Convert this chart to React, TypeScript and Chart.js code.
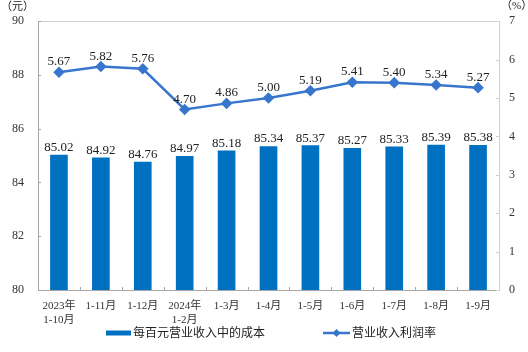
import React, { useEffect, useRef } from "react";
import { Chart, registerables } from "chart.js";

Chart.register(...registerables);

const categories: (string | string[])[] = [
  ["2023年", "1-10月"],
  "1-11月",
  "1-12月",
  ["2024年", "1-2月"],
  "1-3月",
  "1-4月",
  "1-5月",
  "1-6月",
  "1-7月",
  "1-8月",
  "1-9月",
];
const costPerHundred = [85.02, 84.92, 84.76, 84.97, 85.18, 85.34, 85.37, 85.27, 85.33, 85.39, 85.38];
const profitRate = [5.67, 5.82, 5.76, 4.7, 4.86, 5.0, 5.19, 5.41, 5.4, 5.34, 5.27];
const leftTicks = [80, 82, 84, 86, 88, 90];
const rightTicks = [0, 1, 2, 3, 4, 5, 6, 7];
const barLabel = "每百元营业收入中的成本";
const lineLabel = "营业收入利润率";
const leftUnit = "（元）";
const rightUnit = "（%）";

const FONT = "'Liberation Serif', 'Noto Sans CJK SC', serif";
const BAR_COLOR = "#0070C0";
const LINE_COLOR = "#3776CC";
const AXIS_COLOR = "#A6A6A6";
const BORDER_COLOR = "#D0D0D0";

export default function App() {
  const ref = useRef<HTMLCanvasElement | null>(null);

  useEffect(() => {
    document.body.style.margin = "0";
    const canvas = ref.current;
    if (!canvas) return;

    const overlay = {
      id: "overlay",
      afterDatasetsDraw(chart: any) {
        const ctx = chart.ctx;
        const area = chart.chartArea;
        const yl = chart.scales.y;
        const yr = chart.scales.y1;
        const x = chart.scales.x;
        ctx.save();
        // top border
        ctx.strokeStyle = BORDER_COLOR;
        ctx.lineWidth = 1;
        ctx.beginPath();
        ctx.moveTo(area.left, Math.round(area.top) + 0.5);
        ctx.lineTo(area.right, Math.round(area.top) + 0.5);
        ctx.stroke();
        // inward ticks
        ctx.strokeStyle = AXIS_COLOR;
        ctx.beginPath();
        leftTicks.forEach((v) => {
          const py = Math.round(yl.getPixelForValue(v)) + 0.5;
          ctx.moveTo(area.left, py);
          ctx.lineTo(area.left + 3, py);
        });
        ctx.stroke();
        ctx.strokeStyle = BORDER_COLOR;
        ctx.beginPath();
        rightTicks.forEach((v) => {
          const py = Math.round(yr.getPixelForValue(v)) + 0.5;
          ctx.moveTo(area.right - 3, py);
          ctx.lineTo(area.right, py);
        });
        ctx.stroke();
        ctx.strokeStyle = AXIS_COLOR;
        ctx.beginPath();
        const n = categories.length;
        for (let i = 1; i < n; i++) {
          const px = Math.round((x.getPixelForValue(i - 1) + x.getPixelForValue(i)) / 2) + 0.5;
          ctx.moveTo(px, area.bottom);
          ctx.lineTo(px, area.bottom - 3);
        }
        ctx.stroke();

        // data labels
        ctx.fillStyle = "#222";
        ctx.font = `13px ${FONT}`;
        ctx.textAlign = "center";
        ctx.textBaseline = "alphabetic";
        const barMeta = chart.getDatasetMeta(0);
        barMeta.data.forEach((el: any, i: number) => {
          ctx.fillText(costPerHundred[i].toFixed(2), el.x, el.y - 4);
        });
        const lineMeta = chart.getDatasetMeta(1);
        lineMeta.data.forEach((el: any, i: number) => {
          ctx.fillText(profitRate[i].toFixed(2), el.x, el.y - 7);
        });

        // units
        ctx.font = `11px ${FONT}`;
        ctx.textAlign = "left";
        ctx.textBaseline = "middle";
        ctx.fillText(leftUnit, 1, 7);
        ctx.fillText(rightUnit, 501, 6);

        // legend
        const ly = 333;
        ctx.fillStyle = BAR_COLOR;
        ctx.fillRect(106, ly - 2.5, 25, 5);
        ctx.fillStyle = "#222";
        ctx.font = `12px ${FONT}`;
        ctx.fillText(barLabel, 133, ly + 0.5);
        ctx.strokeStyle = LINE_COLOR;
        ctx.lineWidth = 2.5;
        ctx.beginPath();
        ctx.moveTo(323, ly);
        ctx.lineTo(350, ly);
        ctx.stroke();
        ctx.fillStyle = LINE_COLOR;
        ctx.beginPath();
        ctx.moveTo(336.5, ly - 4);
        ctx.lineTo(340.5, ly);
        ctx.lineTo(336.5, ly + 4);
        ctx.lineTo(332.5, ly);
        ctx.closePath();
        ctx.fill();
        ctx.fillStyle = "#222";
        ctx.fillText(lineLabel, 352, ly + 0.5);
        ctx.restore();
      },
    };

    const chart = new Chart(canvas, {
      type: "bar",
      data: {
        labels: categories as any,
        datasets: [
          {
            type: "bar",
            label: barLabel,
            data: costPerHundred,
            backgroundColor: BAR_COLOR,
            barThickness: 17,
            yAxisID: "y",
            order: 1,
          },
          {
            type: "line",
            label: lineLabel,
            data: profitRate,
            borderColor: LINE_COLOR,
            backgroundColor: LINE_COLOR,
            borderWidth: 2.5,
            pointStyle: "rectRot",
            pointRadius: 4,
            pointBackgroundColor: LINE_COLOR,
            pointBorderColor: LINE_COLOR,
            tension: 0,
            yAxisID: "y1",
            order: 0,
          } as any,
        ],
      },
      options: {
        responsive: false,
        animation: false,
        layout: { padding: { top: 20, left: 0, right: 0, bottom: 0 } },
        plugins: {
          legend: { display: false },
          tooltip: { enabled: false },
          title: { display: false },
        },
        scales: {
          x: {
            grid: { display: false, drawTicks: false },
            border: { display: true, color: AXIS_COLOR, width: 1 },
            ticks: {
              color: "#333",
              font: { family: FONT, size: 11, lineHeight: 1.2 },
              padding: 10,
              maxRotation: 0,
              autoSkip: false,
            },
            afterFit(scale: any) {
              scale.height = 62;
            },
          },
          y: {
            position: "left",
            min: 80,
            max: 90,
            grid: { display: false, drawTicks: false },
            border: { display: true, color: AXIS_COLOR, width: 1 },
            ticks: {
              stepSize: 2,
              color: "#333",
              font: { family: FONT, size: 12 },
              padding: 14,
            },
            afterFit(scale: any) {
              scale.width = 38;
            },
          },
          y1: {
            position: "right",
            min: 0,
            max: 7,
            grid: { display: false, drawTicks: false },
            border: { display: true, color: BORDER_COLOR, width: 1 },
            ticks: {
              stepSize: 1,
              color: "#333",
              font: { family: FONT, size: 12 },
              padding: 10,
            },
            afterFit(scale: any) {
              scale.width = 29;
            },
          },
        },
      },
      plugins: [overlay],
    });

    return () => chart.destroy();
  }, []);

  return (
    <div style={{ position: "absolute", left: 0, top: 0, width: 528, height: 352 }}>
      <canvas ref={ref} width={528} height={352} style={{ width: 528, height: 352 }} />
    </div>
  );
}
